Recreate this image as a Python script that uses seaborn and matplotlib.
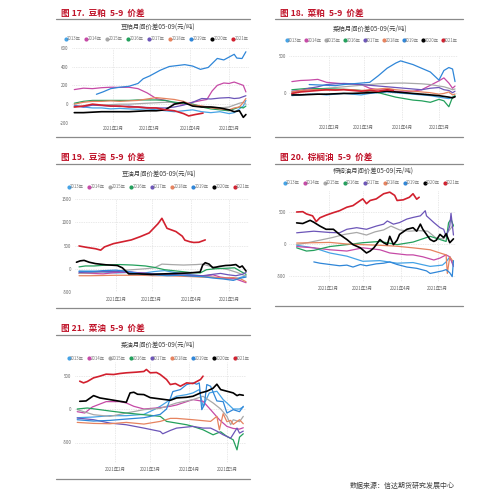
import numpy as np
import pandas as pd
import matplotlib
matplotlib.use("Agg")
import matplotlib.pyplot as plt
from matplotlib.lines import Line2D
import seaborn as sns

sns.set_theme(style="white")
plt.rcParams["font.family"] = ["Noto Sans CJK SC", "DejaVu Sans"]
plt.rcParams["axes.unicode_minus"] = False

W = H = 499

# ---------------- data ----------------
years = ["2013年", "2014年", "2015年", "2016年", "2017年", "2018年", "2019年", "2020年", "2021年"]
colors = ["#45a3e6", "#c64aa6", "#a8a8a8", "#23a05c", "#6c55b8", "#e6835f", "#2f86d8", "#000000", "#d2202e"]
month_days = [32, 60, 91, 121]
month_labels = ["2021年2月", "2021年3月", "2021年4月", "2021年5月"]

# day-of-year, spread (yuan/ton)
soymeal = {
    "2013年": [(2,-10),(9,-30),(16,-40),(23,-40),(30,-50),(37,-45),(44,-50),(51,-55),(58,-50),(65,-60),(72,-70),(79,-80),(86,-70),(93,-60),(100,-80),(107,-90),(114,-80),(121,-100),(125,-90),(129,-50),(132,-20),(134,40)],
    "2014年": [(2,155),(9,170),(16,165),(23,175),(30,180),(37,178),(44,180),(51,165),(58,120),(65,60),(72,40),(79,10),(86,0),(93,20),(100,40),(104,50),(108,140),(112,200),(117,225),(121,220),(125,235),(129,215),(132,200),(134,130)],
    "2015年": [(2,-30),(9,-20),(16,-10),(23,-10),(30,-5),(37,0),(44,0),(51,5),(58,10),(65,15),(72,20),(79,20),(86,10),(93,0),(100,-20),(107,-30),(114,-40),(121,-30),(125,-10),(129,10),(132,20),(134,0)],
    "2016年": [(2,10),(9,30),(16,40),(23,40),(30,40),(37,40),(44,40),(51,45),(58,45),(65,45),(72,40),(79,20),(86,10),(93,0),(100,-30),(107,-50),(114,-60),(121,-70),(125,-50),(129,-30),(132,-40),(134,-20)],
    "2017年": [(2,-20),(9,-30),(16,-10),(23,-15),(30,-20),(37,-25),(44,-20),(51,-30),(58,-35),(65,-40),(72,-40),(79,-30),(86,-10),(93,20),(100,60),(107,55),(114,65),(121,70),(125,60),(129,65),(132,80),(134,90)],
    "2018年": [(2,0),(9,20),(16,30),(23,30),(30,35),(37,30),(44,35),(51,40),(58,55),(65,70),(72,60),(79,50),(86,30),(93,-10),(100,-20),(107,-40),(114,-50),(121,-60),(125,-40),(129,-30),(132,20),(134,60)],
    "2019年": [(19,105),(24,130),(30,165),(37,180),(44,190),(51,220),(55,270),(60,300),(68,360),(75,400),(87,420),(93,405),(99,370),(105,390),(112,486),(117,470),(121,500),(125,530),(127,490),(131,485),(134,557)],
    "2020年": [(2,-90),(9,-90),(16,-85),(23,-80),(30,-80),(37,-80),(44,-80),(51,-75),(58,-70),(65,-70),(72,-60),(79,0),(86,20),(93,-20),(100,-30),(107,-30),(114,-40),(121,-60),(125,-80),(129,-70),(132,-140),(134,-110)],
    "2021年": [(2,-30),(9,-20),(16,0),(23,-10),(30,-20),(37,-20),(44,-30),(51,-30),(58,-40),(65,-40),(72,-60),(79,-70),(86,-100),(90,-125),(95,-110),(101,-95)],
}

rapemeal = {
    "2013年": [(2,-40),(9,-30),(16,-20),(23,-20),(30,-30),(37,-20),(44,-10),(51,-20),(58,-30),(65,-10),(72,0),(79,10),(86,0),(93,-10),(100,-20),(107,-30),(114,-40),(121,-60),(125,-70),(129,-80),(132,-60),(134,-50)],
    "2014年": [(2,150),(9,165),(16,170),(23,180),(30,140),(37,130),(44,120),(51,115),(58,110),(65,60),(72,40),(79,30),(86,20),(93,10),(100,20),(107,40),(114,100),(121,160),(125,200),(129,130),(132,60),(134,90)],
    "2015年": [(2,0),(9,20),(16,40),(23,50),(30,60),(37,70),(44,80),(51,90),(58,100),(65,110),(72,120),(79,125),(86,130),(93,130),(100,125),(107,120),(114,110),(121,90),(125,80),(129,60),(132,40),(134,50)],
    "2016年": [(2,40),(9,50),(16,60),(23,55),(30,50),(37,50),(44,45),(51,40),(58,30),(65,10),(72,0),(79,-30),(86,-60),(93,-80),(100,-100),(107,-110),(114,-130),(121,-90),(125,-110),(129,-190),(132,-60),(134,-40)],
    "2017年": [(2,20),(9,30),(16,60),(23,80),(30,110),(37,120),(44,125),(51,120),(58,110),(65,100),(72,90),(79,80),(86,70),(93,60),(100,50),(107,40),(114,60),(121,70),(125,40),(129,30),(132,0),(134,20)],
    "2018年": [(2,10),(9,30),(16,40),(23,40),(30,35),(37,40),(44,45),(51,40),(58,30),(65,40),(72,50),(79,60),(86,40),(93,30),(100,20),(107,10),(114,0),(121,-20),(125,-10),(129,10),(132,-30),(134,-20)],
    "2019年": [(16,110),(23,105),(30,100),(37,95),(44,110),(51,120),(58,130),(65,140),(72,230),(79,330),(86,400),(90,430),(93,415),(100,380),(107,330),(114,280),(121,170),(125,300),(129,340),(132,320),(134,150)],
    "2020年": [(2,-30),(9,-30),(16,-25),(23,-20),(30,-20),(37,-15),(44,-10),(51,-10),(58,-5),(65,0),(72,10),(79,20),(86,10),(93,0),(100,-10),(107,-20),(114,-30),(121,-40),(125,-50),(129,-60),(132,-70),(134,-55)],
    "2021年": [(2,-10),(9,10),(16,20),(23,30),(30,40),(37,35),(44,40),(51,30),(58,20),(65,30),(72,20),(79,40),(84,30)],
}

soyoil = {
    "2013年": [(3,-60),(12,-50),(22,-70),(32,-90),(42,-80),(52,-100),(62,-60),(70,-40),(78,-80),(88,-120),(98,-150),(106,-180),(114,-200),(122,-220),(128,-200),(134,-150)],
    "2014年": [(3,-100),(12,-100),(22,-110),(32,-80),(42,-70),(52,-90),(62,-120),(72,-130),(82,-140),(92,-150),(100,-160),(108,-130),(114,-180),(120,-200),(126,-220),(131,-270),(134,-300)],
    "2015年": [(3,-100),(15,-80),(25,-60),(35,-40),(45,-20),(55,0),(62,20),(68,100),(75,90),(85,80),(95,90),(100,100),(105,60),(112,20),(120,-20),(127,-80),(134,-160)],
    "2016年": [(3,40),(8,60),(15,60),(25,80),(35,90),(45,80),(55,60),(62,30),(70,-20),(80,-50),(90,-80),(98,-90),(103,-20),(110,0),(118,10),(125,20),(130,-60),(134,-120)],
    "2017年": [(3,-80),(12,-70),(22,-60),(32,-60),(42,-70),(52,-90),(62,-110),(72,-120),(82,-130),(92,-140),(100,-150),(108,-120),(114,-100),(120,-130),(126,-150),(131,-120),(134,-80)],
    "2018年": [(3,-150),(12,-150),(22,-145),(32,-140),(42,-140),(52,-140),(62,-150),(72,-150),(82,-160),(92,-170),(100,-180),(108,-180),(116,-200),(124,-190),(130,-220),(134,-280)],
    "2019年": [(3,-50),(12,-60),(22,-40),(32,-30),(42,-60),(52,-120),(62,-130),(72,-150),(82,-140),(92,-160),(100,-170),(108,-200),(116,-220),(124,-250),(130,-200),(134,-180)],
    "2020年": [(1,140),(4,170),(7,180),(11,140),(16,110),(24,85),(33,70),(37,20),(42,-110),(50,-110),(60,-120),(70,-110),(80,-100),(90,-90),(98,-70),(100,80),(102,130),(105,100),(108,20),(113,50),(118,70),(122,75),(126,90),(129,30),(131,60),(134,-50)],
    "2021年": [(3,490),(9,460),(16,430),(20,400),(23,470),(30,540),(37,580),(44,620),(51,690),(58,770),(65,970),(68,1085),(72,870),(79,800),(84,700),(86,615),(90,580),(93,565),(97,570),(100,600),(102,620)],
}

palmoil = {
    "2013年": [(6,-20),(20,-60),(33,-140),(47,-190),(60,-270),(74,-260),(88,-300),(101,-290),(115,-350),(125,-330),(128,-280),(131,-200),(134,-330)],
    "2014年": [(6,-40),(20,-60),(33,-90),(47,-110),(60,-60),(74,-90),(82,-140),(96,-170),(101,-170),(109,-200),(118,-250),(123,-220),(128,-170),(131,-200),(134,-350)],
    "2015年": [(6,-10),(15,20),(25,60),(35,100),(45,150),(55,180),(63,140),(70,190),(77,220),(83,280),(90,220),(98,200),(105,210),(113,200),(120,90),(126,80),(130,200),(134,300)],
    "2016年": [(6,-60),(14,-110),(20,-100),(33,-40),(47,-10),(60,20),(74,40),(88,-10),(101,30),(115,120),(123,70),(128,40),(130,330),(132,390),(134,280)],
    "2017年": [(6,175),(20,200),(33,180),(41,175),(47,230),(55,255),(63,230),(71,280),(77,310),(80,360),(85,310),(90,335),(96,390),(101,415),(107,440),(111,520),(112,440),(118,335),(123,255),(126,230),(128,120),(131,280),(132,480),(134,140)],
    "2018年": [(6,15),(20,20),(33,25),(47,0),(60,-10),(74,-20),(88,-35),(101,-60),(115,-90),(123,-140),(128,-170),(129,-460),(131,-200),(134,-280)],
    "2019年": [(20,-280),(25,-300),(33,-320),(41,-340),(47,-330),(52,-360),(58,-320),(63,-340),(71,-310),(77,-300),(82,-280),(88,-320),(96,-360),(104,-380),(112,-420),(115,-460),(120,-440),(125,-420),(128,-400),(131,-450),(133,-510),(134,-260)],
    "2020年": [(6,330),(11,320),(17,370),(20,340),(25,280),(30,230),(36,230),(41,150),(47,70),(52,-10),(58,-60),(63,-140),(66,-110),(69,-60),(71,-10),(74,70),(77,20),(80,-10),(82,120),(85,-10),(88,60),(90,150),(96,230),(101,255),(104,200),(107,310),(109,230),(112,150),(115,70),(118,40),(120,60),(123,150),(126,100),(128,160),(131,20),(134,80)],
    "2021年": [(6,500),(11,505),(14,470),(19,440),(22,350),(25,410),(30,450),(36,490),(41,520),(47,575),(52,600),(58,680),(60,705),(63,630),(66,680),(71,705),(77,785),(82,810),(86,760),(88,680),(93,690),(98,730),(101,785),(104,700),(106,730)],
}

rapeoil = {
    "2013年": [(2,-130),(15,-120),(28,-100),(41,-100),(55,-80),(63,-10),(68,40),(76,140),(81,190),(89,215),(94,240),(99,290),(102,40),(107,240),(113,265),(118,140),(121,90),(126,0),(131,0),(134,30)],
    "2014年": [(2,-40),(8,-60),(14,30),(25,110),(36,110),(41,90),(47,40),(55,0),(68,20),(76,40),(81,60),(89,110),(94,140),(102,115),(108,-10),(115,-160),(121,-260),(126,-290),(131,-300),(134,-280)],
    "2015年": [(2,-10),(15,-85),(28,-110),(41,-60),(55,-10),(68,10),(81,90),(94,140),(102,190),(110,90),(116,0),(121,-110),(124,-235),(126,-160),(131,-190),(134,-110)],
    "2016年": [(2,0),(10,15),(20,-10),(28,-30),(41,-60),(55,-85),(68,-110),(73,-185),(81,-210),(89,-235),(94,-260),(102,-310),(110,-385),(116,-340),(121,-410),(126,-460),(129,-610),(131,-420),(134,-370)],
    "2017年": [(2,-135),(15,-160),(28,-210),(41,-235),(55,-285),(68,-335),(70,-370),(76,-320),(81,-285),(94,-260),(102,-285),(108,-285),(113,-330),(118,-385),(124,-435),(129,-285),(131,-360),(134,-330)],
    "2018年": [(2,-200),(15,-215),(28,-220),(41,-200),(55,-225),(68,-185),(76,-140),(81,-140),(94,-160),(108,-185),(113,-110),(115,-310),(118,-70),(121,-190),(124,-170),(126,-230),(131,-160),(134,-220)],
    "2019年": [(2,-160),(15,-180),(28,-170),(41,-150),(55,-130),(68,-80),(73,0),(78,260),(84,290),(89,365),(94,390),(97,370),(99,390),(101,-10),(103,60),(105,365),(108,340),(113,120),(118,110),(121,-60),(126,-10),(131,-40),(134,40)],
    "2020年": [(4,115),(9,120),(15,200),(20,165),(28,140),(36,115),(41,100),(44,240),(47,250),(50,220),(55,215),(60,170),(68,150),(76,130),(81,165),(89,175),(94,190),(100,240),(105,265),(110,310),(113,370),(116,290),(121,265),(126,240),(129,200),(131,215),(134,205)],
    "2021年": [(4,415),(7,390),(10,410),(15,465),(20,490),(25,520),(31,515),(36,530),(41,540),(49,550),(55,560),(57,590),(60,540),(65,545),(68,515),(73,440),(76,365),(80,380),(84,340),(89,390),(94,380),(100,440),(102,490)],
}

panels = [
    dict(data=soymeal, header="图 17.  豆粕  5-9  价差", hx=61, hy=13, rule=(56, 250, 19, 137),
         title="豆粕月间价差05-09(元/吨)", tx=158, ty=27, lx=64, ly=39, ldx=20.9,
         box=(71.7, 47.7, 248.5, 123.0), ylim=(-200, 600), yticks=[-200, 0, 200, 400, 600], xpad=2.0),
    dict(data=rapemeal, header="图 18.  菜粕  5-9  价差", hx=280, hy=13, rule=(275, 463, 19, 137),
         title="菜粕月间价差05-09(元/吨)", tx=370, ty=29, lx=285, ly=40, ldx=19.5,
         box=(289.4, 55.7, 457.5, 120.8), ylim=(-380, 500), yticks=[0, 500], xpad=3.0),
    dict(data=soyoil, header="图 19.  豆油  5-9  价差", hx=61, hy=157, rule=(56, 250, 164, 308),
         title="豆油月间价差05-09(元/吨)", tx=159, ty=174, lx=67, ly=187, ldx=20.75,
         box=(75.2, 199.0, 248.6, 292.0), ylim=(-500, 1500), yticks=[-500, 0, 500, 1000, 1500], xpad=3.5),
    dict(data=palmoil, header="图 20.  棕榈油  5-9  价差", hx=280, hy=157, rule=(275, 463, 164, 306),
         title="棕榈油月间价差05-09(元/吨)", tx=373, ty=171, lx=283, ly=183, ldx=20.0,
         box=(289.3, 189.6, 455.9, 282.4), ylim=(-600, 850), yticks=[-500, 0, 500], xpad=2.5),
    dict(data=rapeoil, header="图 21.  菜油  5-9  价差", hx=61, hy=328, rule=(56, 250, 335, 479),
         title="菜油月间价差05-09(元/吨)", tx=158, ty=345, lx=67, ly=358, ldx=20.75,
         box=(74.7, 362.1, 245.8, 462.6), ylim=(-800, 700), yticks=[-500, 0, 500], xpad=3.0),
]

# ---------------- drawing ----------------
fig = plt.figure(figsize=(W / 100, H / 100), dpi=100)
fig.patch.set_facecolor("white")

def fx(x):
    return x / W

def fy(y):
    return 1 - y / H

palette = dict(zip(years, colors))

for p in panels:
    x0, y0, x1, y1 = p["box"]
    ax = fig.add_axes([fx(x0), fy(y1), (x1 - x0) / W, (y1 - y0) / H])
    for yr in years:
        pts = p["data"][yr]
        df = pd.DataFrame(pts, columns=["day", "value"])
        lw = 1.2 if yr in ("2020年", "2021年") else 0.9
        sns.lineplot(data=df, x="day", y="value", color=palette[yr], linewidth=lw,
                     estimator=None, ax=ax, legend=False)
    ax.set_xlim(0, 136)
    ax.set_ylim(*p["ylim"])
    ax.set_xticks(month_days)
    ax.set_xticklabels(month_labels)
    ax.set_yticks(p["yticks"])
    ax.set_yticklabels([str(v) for v in p["yticks"]])
    ax.set_xlabel("")
    ax.set_ylabel("")
    for s in ax.spines.values():
        s.set_visible(False)
    ax.grid(True, linestyle=(0, (1, 1.5)), color="#d4d4d4", linewidth=0.5)
    ax.set_axisbelow(True)
    ax.tick_params(axis="both", length=0, labelsize=3.2, colors="#666666")
    ax.tick_params(axis="y", pad=2.5)
    ax.tick_params(axis="x", pad=p["xpad"])
    ax.patch.set_alpha(0)

    # header + rules
    fig.text(fx(p["hx"]), fy(p["hy"]), p["header"], color="#c0142a", fontsize=6.2,
             fontweight="bold", ha="left", va="center")
    rx0, rx1, ry0, ry1 = p["rule"]
    for ry in (ry0, ry1):
        fig.add_artist(Line2D([fx(rx0), fx(rx1)], [fy(ry), fy(ry)], color="#8a8a8a",
                              linewidth=0.9, transform=fig.transFigure))
    # chart title
    fig.text(fx(p["tx"]), fy(p["ty"]), p["title"], color="#404040", fontsize=4.6,
             ha="center", va="center")
    # legend
    for i, yr in enumerate(years):
        lx = p["lx"] + i * p["ldx"]
        fig.add_artist(Line2D([fx(lx + 1.5)], [fy(p["ly"])], marker="o", markersize=2.0,
                              color=palette[yr], linestyle="none", transform=fig.transFigure))
        fig.text(fx(lx + 3.3), fy(p["ly"]), yr, color="#7a7a7a", fontsize=3.1,
                 ha="left", va="center")

fig.text(fx(402), fy(486), "数据来源：信达期货研究发展中心", color="#404040", fontsize=5.0,
         ha="center", va="center")

fig.savefig("out.png", dpi=100, facecolor="white")
